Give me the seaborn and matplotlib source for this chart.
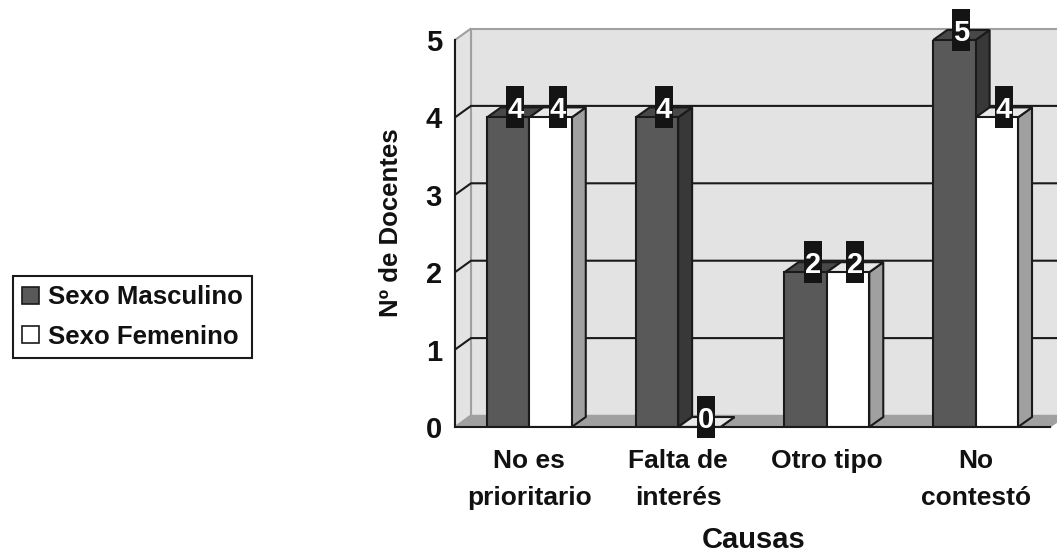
import matplotlib
matplotlib.use("Agg")
import matplotlib.pyplot as plt
from matplotlib.patches import Polygon, Rectangle, Patch
from matplotlib.lines import Line2D
import numpy as np
import pandas as pd
import seaborn as sns

# ---- data -------------------------------------------------------------
causas = ["No es\nprioritario", "Falta de\ninterés", "Otro tipo", "No\ncontestó"]
series = ["Sexo Masculino", "Sexo Femenino"]
masculino = [4, 4, 2, 5]
femenino = [4, 0, 2, 4]
yticks = [0, 1, 2, 3, 4, 5]

df = pd.DataFrame({
    "Causa": causas * 2,
    "Sexo": [series[0]] * len(causas) + [series[1]] * len(causas),
    "Docentes": masculino + femenino,
})

# ---- style ------------------------------------------------------------
sns.set_style("white")
TXT = "#111111"
plt.rcParams["font.family"] = ["Liberation Sans", "DejaVu Sans"]
plt.rcParams["font.weight"] = "bold"
plt.rcParams["axes.labelweight"] = "bold"
plt.rcParams["text.color"] = TXT
plt.rcParams["xtick.labelcolor"] = TXT
plt.rcParams["ytick.labelcolor"] = TXT

EDGE = "#1a1a1a"
DARK_FRONT, DARK_SIDE, DARK_TOP = "#595959", "#383838", "#484848"
LIGHT_FRONT, LIGHT_SIDE, LIGHT_TOP = "#ffffff", "#a0a0a0", "#e8e8e8"
WALL, WALL_EDGE, FLOOR = "#e3e3e3", "#a0a0a0", "#a0a0a0"

W, H = 1057, 554
fig = plt.figure(figsize=(W / 100, H / 100), dpi=100)
fig.patch.set_facecolor("white")
ax = fig.add_axes([455 / W, 1 - 427 / H, 595 / W, 387 / H])

sns.barplot(data=df, x="Causa", y="Docentes", hue="Sexo",
            palette=[DARK_FRONT, LIGHT_FRONT], saturation=1, width=0.57,
            edgecolor=EDGE, linewidth=1.5, errorbar=None, legend=False, ax=ax)

x0, x1 = -0.5, len(causas) - 0.5
ymax = yticks[-1]
ax.set_xlim(x0, x1)
ax.set_ylim(0, ymax)
ax.patch.set_visible(False)

# pixel -> data scale for the depth offsets
p0 = ax.transData.transform((0, 0))
p1 = ax.transData.transform((1, 1))
sx, sy = p1[0] - p0[0], p1[1] - p0[1]
wdx, wdy = 16 / sx, 11.5 / sy      # wall depth
bdx, bdy = 14 / sx, 10 / sy        # bar depth

# ---- walls and floor ---------------------------------------------------
back = Polygon([(x0 + wdx, wdy), (x1 + wdx, wdy), (x1 + wdx, ymax + wdy), (x0 + wdx, ymax + wdy)],
               closed=True, facecolor=WALL, edgecolor=WALL_EDGE, lw=1.5, zorder=0.4, clip_on=False)
left = Polygon([(x0, 0), (x0, ymax), (x0 + wdx, ymax + wdy), (x0 + wdx, wdy)],
               closed=True, facecolor=WALL, edgecolor=WALL_EDGE, lw=1.5, zorder=0.45, clip_on=False)
floor = Polygon([(x0, 0), (x1, 0), (x1 + wdx, wdy), (x0 + wdx, wdy)],
                closed=True, facecolor=FLOOR, edgecolor=WALL_EDGE, lw=1.0, zorder=0.5, clip_on=False)
for p in (back, left, floor):
    ax.add_patch(p)

for v in yticks[1:-1]:
    ax.add_line(Line2D([x0, x0 + wdx, x1 + wdx], [v, v + wdy, v + wdy],
                       color=EDGE, lw=1.5, zorder=0.6, clip_on=False))

# ---- 3D bars -------------------------------------------------------------
bars = sorted(ax.patches[:len(df)], key=lambda r: r.get_x())
for i, r in enumerate(bars):
    x, w, h = r.get_x(), r.get_width(), r.get_height()
    is_dark = (i % 2 == 0)
    side_c, top_c = (DARK_SIDE, DARK_TOP) if is_dark else (LIGHT_SIDE, LIGHT_TOP)
    zbase = 2.0 if is_dark else 2.2
    r.set_zorder(zbase + 0.1)
    side = Polygon([(x + w, 0), (x + w, h), (x + w + bdx, h + bdy), (x + w + bdx, bdy)],
                   closed=True, facecolor=side_c, edgecolor=EDGE, lw=1.5, zorder=zbase, clip_on=False)
    top = Polygon([(x, h), (x + w, h), (x + w + bdx, h + bdy), (x + bdx, h + bdy)],
                  closed=True, facecolor=top_c, edgecolor=EDGE, lw=1.5, zorder=zbase + 0.05, clip_on=False)
    ax.add_patch(side)
    ax.add_patch(top)

    # value tag on the back edge of the bar top
    cx, cy = x + w / 2 + bdx / 2, h + bdy
    bw, bh = 18 / sx, 42 / sy
    ax.add_patch(Rectangle((cx - bw / 2, cy - bh / 2), bw, bh, facecolor="#141414",
                           edgecolor="none", zorder=3, clip_on=False))
    ax.text(cx, cy - 11 / sy, f"{int(round(h))}", ha="center", va="baseline",
            color="white", fontsize=21, fontweight="bold", zorder=3.1, clip_on=False)

# ---- axes ---------------------------------------------------------------
sns.despine(ax=ax, top=True, right=True)
for s in ("left", "bottom"):
    ax.spines[s].set_color(EDGE)
    ax.spines[s].set_linewidth(1.5)
    ax.spines[s].set_zorder(2.6)

ax.set_yticks(yticks)
ax.set_yticklabels([str(t) for t in yticks])
ax.tick_params(axis="y", length=5.8, width=1.5, pad=3.6, labelsize=21, color=EDGE)

ax.set_xticks(range(len(causas)))
ax.set_xticklabels(causas, fontsize=19, linespacing=1.7)
ax.set_xticks(np.arange(x0, x1 + 0.01, 1.0), minor=True)
ax.tick_params(axis="x", which="major", length=0, pad=15.5)
ax.tick_params(axis="x", which="minor", length=5.8, width=1.5, color=EDGE)

ax.set_xlabel("")
ax.set_ylabel("")
ax.text((389 + 9 - 455) / 595, (427 - 223) / 387, "Nº de Docentes", transform=ax.transAxes,
        rotation=90, rotation_mode="anchor", ha="center", va="baseline",
        fontsize=18.5, fontweight="bold", color=TXT)
ax.text((754 - 455) / 595, (427 - 548) / 387, "Causas", transform=ax.transAxes,
        ha="center", va="baseline", fontsize=21, fontweight="bold", color=TXT)

# ---- legend -------------------------------------------------------------
handles = [Patch(facecolor=DARK_FRONT, edgecolor=EDGE, lw=1.2),
           Patch(facecolor=LIGHT_FRONT, edgecolor=EDGE, lw=1.2)]
leg = fig.legend(handles, series, loc="center", bbox_to_anchor=(132.5 / W, 1 - 317 / H),
                 frameon=True, fancybox=False, edgecolor=EDGE, framealpha=1,
                 prop={"size": 18.5, "weight": "bold"}, handlelength=0.65, handleheight=0.65,
                 handletextpad=0.35, labelspacing=0.6, borderpad=0.35, borderaxespad=0)
leg.get_frame().set_linewidth(1.5)
for t in leg.get_texts():
    t.set_color(TXT)

fig.savefig("out.png", dpi=100)
